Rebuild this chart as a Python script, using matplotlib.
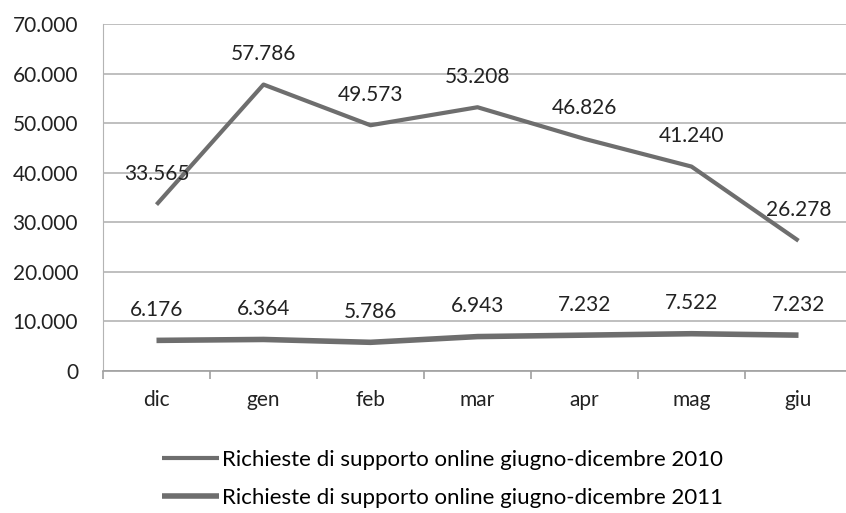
import matplotlib
matplotlib.use("Agg")
import matplotlib.pyplot as plt
import numpy as np
from matplotlib.ticker import FuncFormatter, FixedLocator

months = ["dic", "gen", "feb", "mar", "apr", "mag", "giu"]
requests_2010 = [33565, 57786, 49573, 53208, 46826, 41240, 26278]
requests_2011 = [6176, 6364, 5786, 6943, 7232, 7522, 7232]
series_labels = [
    "Richieste di supporto online giugno-dicembre 2010",
    "Richieste di supporto online giugno-dicembre 2011",
]
y_ticks = [0, 10000, 20000, 30000, 40000, 50000, 60000, 70000]

plt.rcParams["font.family"] = ["Lato", "DejaVu Sans"]

W, H = 846, 513
fig = plt.figure(figsize=(W / 100, H / 100), dpi=100)
# plot area runs past the right edge, as in the cropped original
left, right = 103, 852
bottom, top = 371, 24
ax = fig.add_axes([left / W, (H - bottom) / H, (right - left) / W, (bottom - top) / H])

x = np.arange(len(months))
line_color = "#6e6e6e"
for values, label, lw in zip([requests_2010, requests_2011], series_labels, [3.0, 4.0]):
    ax.plot(x, values, color=line_color, linewidth=lw, solid_capstyle="butt", label=label)
    for xi, v in zip(x, values):
        ax.annotate(
            f"{v:,}".replace(",", "."),
            (xi, v),
            xytext=(0, 22),
            textcoords="offset points",
            ha="center",
            va="center",
            fontsize=15,
            color="#222222",
        )

ax.set_xlim(-0.5, len(months) - 0.5)
ax.set_ylim(0, 70000)
ax.yaxis.set_major_locator(FixedLocator(y_ticks))
ax.yaxis.set_major_formatter(FuncFormatter(lambda v, _: f"{int(v):,}".replace(",", ".")))
ax.set_xticks(x)
ax.set_xticklabels(months)
ax.xaxis.set_minor_locator(FixedLocator(np.arange(-0.5, len(months) + 0.5, 1)))

ax.grid(axis="y", color="#b4b4b4", linewidth=1.2)
ax.set_axisbelow(True)
for side in ["top", "right"]:
    ax.spines[side].set_visible(False)
ax.spines["left"].set_color("#b4b4b4")
ax.spines["bottom"].set_color("#a0a0a0")
ax.spines["bottom"].set_linewidth(1.2)

ax.tick_params(axis="y", length=0, labelsize=15, colors="#222222", pad=18)
ax.tick_params(axis="x", which="major", length=0, labelsize=15, colors="#222222", pad=14)
ax.tick_params(axis="x", which="minor", length=6, color="#a0a0a0", width=1.2)

fig.legend(
    loc="center",
    bbox_to_anchor=(442 / W, (H - 479) / H),
    ncol=1,
    frameon=False,
    fontsize=16,
    handlelength=2.6,
    handletextpad=0.1,
    labelspacing=0.8,
)

fig.savefig("out.png", dpi=100, facecolor="white")
